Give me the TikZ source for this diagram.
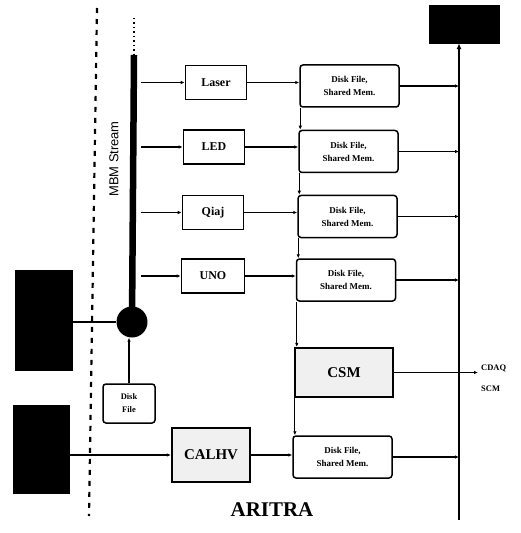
\documentclass[tikz,border=0pt]{standalone}
\usepackage{fontspec}
\setmainfont{Liberation Serif}
\newfontfamily\mysans{Liberation Sans}
\usetikzlibrary{arrows.meta}
\begin{document}
\begin{tikzpicture}[x=1bp,y=-1bp,
 sbox/.style={draw, line width=1.6bp, inner sep=0, font=\bfseries\fontsize{12}{13}\selectfont, minimum width=61bp, minimum height=34bp},
 dbox/.style={draw, line width=1.5bp, rounded corners=3bp, inner sep=0, align=center, font=\bfseries\fontsize{9}{13}\selectfont, minimum width=99bp, minimum height=42bp},
 gbox/.style={draw, line width=2.2bp, fill=gray!12, inner sep=0, font=\bfseries\fontsize{15}{16}\selectfont},
 blk/.style={fill=black, draw=black, inner sep=0},
 conn/.style={line width=1.1bp},
 arr/.style={conn, -{Latex[length=4bp,width=3.5bp]}},
 small/.style={font=\bfseries\fontsize{8.5}{10}\selectfont, anchor=west, inner sep=0},
]
\useasboundingbox (0,0) rectangle (521,533);
% boxes
\node[sbox] (laser) at (216,82.5) {Laser};
\node[sbox] (led) at (214,147) {LED};
\node[sbox] (qiaj) at (213,212.5) {Qiaj};
\node[sbox, minimum width=63bp] (uno) at (213,276) {UNO};
\node[dbox] (df1) at (349.5,86) {Disk File,\\Shared Mem.};
\node[dbox] (df2) at (348.5,151.5) {Disk File,\\Shared Mem.};
\node[dbox] (df3) at (347.5,216.5) {Disk File,\\Shared Mem.};
\node[dbox] (df4) at (346,280) {Disk File,\\Shared Mem.};
\node[gbox, minimum width=98bp, minimum height=49bp] (csm) at (344,372.5) {CSM};
\node[dbox] (df5) at (342.5,457) {Disk File,\\Shared Mem.};
\node[gbox, minimum width=78bp, minimum height=54bp] (calhv) at (211,455) {CALHV};
\node[dbox, minimum width=52bp, minimum height=39bp, font=\bfseries\fontsize{8.5}{13}\selectfont] (dfs) at (129,403.5) {Disk\\File};
\node[blk, minimum width=57bp, minimum height=100bp] (b1) at (43.5,320) {};
\node[blk, minimum width=56bp, minimum height=88bp] (b2) at (41,449) {};
\node[blk, minimum width=70bp, minimum height=38bp] (b3) at (464,24) {};
\node[circle, fill=black, minimum size=31bp, inner sep=0] (hub) at (132,322) {};
\node[font=\mysans\fontsize{13}{14}\selectfont, rotate=90] (mbm) at (114,159) {MBM Stream};
\node[font=\bfseries\fontsize{21}{22}\selectfont] (aritra) at (272,510) {ARITRA};
\node[small] (cdaq) at (481,368) {CDAQ};
\node[small] (scm) at (481,389) {SCM};
% coordinates
\coordinate (dtop) at (97,8);
\coordinate (dbot) at (89,516);
\coordinate (sTop) at (134,18);
\coordinate (bTop) at (134,55);
\coordinate (bR) at (141,0);
\coordinate (busB) at (459,520);
\coordinate (out) at (478,372);
% dashed separator
\draw[line width=2.2bp, dash pattern=on 5bp off 6bp] (dtop) -- (dbot);
% MBM stream bar
\draw[line width=1.5bp, dash pattern=on 1.5bp off 3bp] (sTop) -- (bTop);
\draw[line width=6.5bp] (bTop) -- (hub.center);
% bar to boxes
\foreach \n in {laser,led,qiaj,uno}{
  \draw[arr] (\n.west -| bR) -- (\n.west);
}
\draw[arr] (laser.east) -- (laser.east -| df1.west);
\draw[arr] (led.east) -- (led.east -| df2.west);
\draw[arr] (qiaj.east) -- (qiaj.east -| df3.west);
\draw[arr] (uno.east) -- (uno.east -| df4.west);
% bus
\draw[line width=1.8bp, -{Latex[length=6bp,width=5bp]}] (busB) -- (busB |- b3.south);
\foreach \n in {df1,df2,df3,df4,df5}{
  \draw[arr] (\n.east) -- (\n.east -| busB);
}
% vertical chain
\draw[arr] ([xshift=1bp]df1.south west) -- ([xshift=1bp]df1.south west |- df2.north);
\draw[arr] ([xshift=1bp]df2.south west) -- ([xshift=1bp]df2.south west |- df3.north);
\draw[arr] ([xshift=1bp]df3.south west) -- ([xshift=1bp]df3.south west |- df4.north);
\draw[arr] ([xshift=1bp]df4.south west) -- ([xshift=1bp]df4.south west |- csm.north);
\draw[arr] ([xshift=1bp]csm.south west) -- ([xshift=1bp]csm.south west |- df5.north);
% CSM output
\draw[arr] (csm.east) -- (csm.east -| out);
% inputs
\draw[conn] (b1.east |- hub) -- (hub.west);
\draw[arr] (b2.east |- calhv) -- (calhv.west);
\draw[arr] (calhv.east) -- (calhv.east -| df5.west);
\draw[arr] (dfs.north) -- (dfs.north |- hub.south);
\end{tikzpicture}
\end{document}
